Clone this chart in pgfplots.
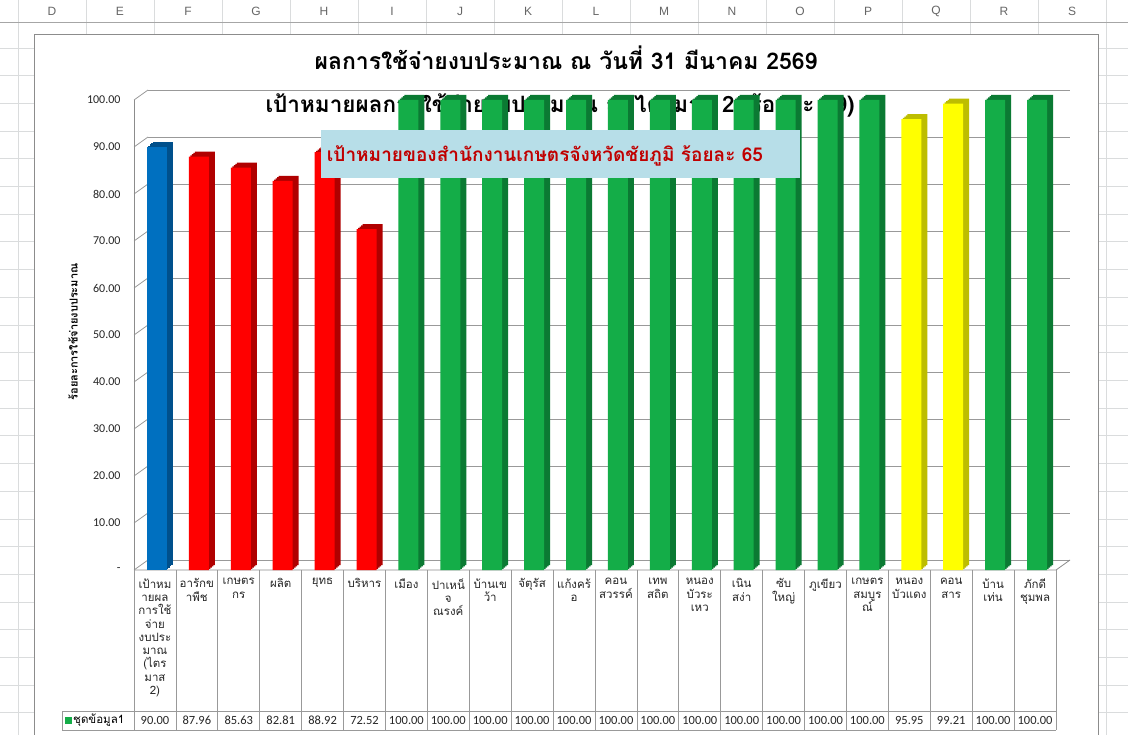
\documentclass[border=0pt]{standalone}
\usepackage{fontspec}
\setmainfont{Carlito}
\newfontfamily\thaifont[Script=Thai]{Loma}
\newfontfamily\hdrfont{Liberation Sans}
\usepackage{pgfplots}
\usepackage{pgfplotstable}
\pgfplotsset{compat=1.18}
\definecolor{sheetgrid}{HTML}{DADCDD}
\definecolor{bluef}{HTML}{0070C0}
\definecolor{blues}{HTML}{00508C}
\definecolor{redf}{HTML}{FF0000}
\definecolor{reds}{HTML}{B00000}
\definecolor{greenf}{HTML}{14AD48}
\definecolor{greens}{HTML}{0B7A33}
\definecolor{yelf}{HTML}{FFFF00}
\definecolor{yels}{HTML}{BDBD00}
\definecolor{boxfill}{HTML}{B7DEE8}
\definecolor{boxtext}{HTML}{C00000}

\pgfplotstableread{
x y
0 90.00
}\tblue
\pgfplotstableread{
x y
1 87.96
2 85.63
3 82.81
4 88.92
5 72.52
}\tred
\pgfplotstableread{
x y
6 100.00
7 100.00
8 100.00
9 100.00
10 100.00
11 100.00
12 100.00
13 100.00
14 100.00
15 100.00
16 100.00
17 100.00
20 100.00
21 100.00
}\tgreen
\pgfplotstableread{
x y
18 95.95
19 99.21
}\tyellow

\newcommand\bars[3]{%
  \addplot[ybar, bar width=20pt, bar shift=8pt, yshift=5pt, fill=#3, draw=none] table[x=x,y=y]{#1};
  \addplot[ybar, bar width=20pt, bar shift=6.5pt, yshift=3.75pt, fill=#3, draw=none] table[x=x,y=y]{#1};
  \addplot[ybar, bar width=20pt, bar shift=5pt, yshift=2.5pt, fill=#3, draw=none] table[x=x,y=y]{#1};
  \addplot[ybar, bar width=20pt, bar shift=3.5pt, yshift=1.25pt, fill=#3, draw=none] table[x=x,y=y]{#1};
  \addplot[ybar, bar width=20pt, bar shift=2pt, fill=#2, draw=none] table[x=x,y=y]{#1};
}

\begin{document}
\begin{tikzpicture}[x=1pt,y=1pt]
\useasboundingbox (0,0) rectangle (1128,-735);
\clip (0,0) rectangle (1128,-735);
\fill[white] (0,0) rectangle (1128,-735);
% spreadsheet grid
\foreach \k in {0,...,16} {\draw[sheetgrid, line width=0.8pt] ({18+68*\k},0) -- ({18+68*\k},-735);}
\foreach \k in {0,...,24} {\draw[sheetgrid, line width=0.8pt] (0,{-48-27.7*\k}) -- (1128,{-48-27.7*\k});}
\draw[black!35, line width=0.8pt] (0,-22) -- (1128,-22);
\foreach \l [count=\i from 0] in {D,E,F,G,H,I,J,K,L,M,N,O,P,Q,R,S}
  {\node[font=\hdrfont\fontsize{12}{14}\selectfont, text=black!60] at ({52+68*\i},-11) {\l};}
% chart area
\fill[white] (34,-35) rectangle (1098,-745);
\draw[black!45, line width=1pt] (34,-35) rectangle (1098,-745);
% titles
\node[font=\thaifont\bfseries\fontsize{23}{27}\selectfont] at (566,-58) {ผลการใช้จ่ายงบประมาณ ณ วันที่  31  มีนาคม 2569};
\node[font=\thaifont\bfseries\fontsize{22.5}{26}\selectfont] at (560,-105) {เป้าหมายผลการใช้จ่ายงบประมาณ ณ ไตรมาส 2 (ร้อยละ 89)};
\node[rotate=90, font=\thaifont\bfseries\fontsize{11}{13}\selectfont] at (73,-332) {ร้อยละการใช้จ่ายงบประมาณ};

\begin{axis}[
  at={(134pt,-570pt)}, anchor=south west, scale only axis,
  width=922pt, height=470pt,
  xmin=-0.5, xmax=21.5, ymin=0, ymax=100, enlargelimits=false, clip=false,
  axis line style={draw=none}, tick style={draw=none}, major tick length=0pt,
  /pgf/number format/assume math mode=true,
  ytick={0,10,...,100},
  yticklabels={-,10.00,20.00,30.00,40.00,50.00,60.00,70.00,80.00,90.00,100.00},
  yticklabel style={font=\fontsize{12}{14}\selectfont, text=black!85, xshift=-10pt},
  ymajorgrids, major grid style={draw=black!40, line width=0.8pt, xshift=14pt, yshift=10pt},
  xtick={0,...,21},
  xticklabels={
    {เป้าหม\\ายผล\\การใช้\\จ่าย\\งบประ\\มาณ\\(ไตร\\มาส\\2)},
    {อารักข\\าพืช},
    {เกษตร\\กร},
    {ผลิต},
    {ยุทธ},
    {บริหาร},
    {เมือง},
    {ปาเหน็\\จ\\ณรงค์},
    {บ้านเข\\ว้า},
    {จัตุรัส},
    {แก้งคร้\\อ},
    {คอน\\สวรรค์},
    {เทพ\\สถิต},
    {หนอง\\บัวระ\\เหว},
    {เนิน\\สง่า},
    {ซับ\\ใหญ่},
    {ภูเขียว},
    {เกษตร\\สมบูร\\ณ์},
    {หนอง\\บัวแดง},
    {คอน\\สาร},
    {บ้าน\\เท่น},
    {ภักดี\\ชุมพล}},
  xticklabel style={font=\thaifont\fontsize{11.5}{13.3}\selectfont, align=center, anchor=north, yshift=-5pt, text=black!85},
  extra x ticks={0,...,21},
  extra x tick labels={90.00,87.96,85.63,82.81,88.92,72.52,100.00,100.00,100.00,100.00,100.00,100.00,100.00,100.00,100.00,100.00,100.00,100.00,95.95,99.21,100.00,100.00},
  extra x tick style={xticklabel style={font=\fontsize{12.5}{14}\selectfont, anchor=center, yshift=-145pt}},
]
\pgfplotsinvokeforeach{0,10,...,100}{\draw[black!40, line width=0.8pt] (axis cs:-0.5,#1) -- ++(14pt,10pt);}
\draw[black!45, line width=0.8pt] (axis cs:-0.5,0) -- (axis cs:-0.5,100);
\draw[black!45, line width=0.8pt] (axis cs:-0.5,0) -- (axis cs:21.5,0) -- ++(14pt,10pt);
\bars{\tblue}{bluef}{blues}
\bars{\tred}{redf}{reds}
\bars{\tgreen}{greenf}{greens}
\bars{\tyellow}{yelf}{yels}
\end{axis}

% data table lines
\foreach \k in {0,...,22} {\draw[black!40, line width=0.8pt] ({134+41.909*\k},-570) -- ({134+41.909*\k},-730);}
\draw[black!40, line width=0.8pt] (62,-711) -- (1056,-711);
\draw[black!40, line width=0.8pt] (62,-730) -- (1056,-730);
\draw[black!40, line width=0.8pt] (62,-711) -- (62,-730);
\fill[greenf] (65,-717) rectangle (72,-724);
\node[anchor=west, inner sep=0pt, font=\thaifont\fontsize{11.5}{13}\selectfont] at (73,-720.5) {ชุดข้อมูล1};

% text box
\fill[boxfill] (321,-130) rectangle (800,-178);
\node[font=\thaifont\bfseries\fontsize{19}{23}\selectfont, text=boxtext] at (545,-156) {เป้าหมายของสำนักงานเกษตรจังหวัดชัยภูมิ ร้อยละ 65};
\end{tikzpicture}
\end{document}
